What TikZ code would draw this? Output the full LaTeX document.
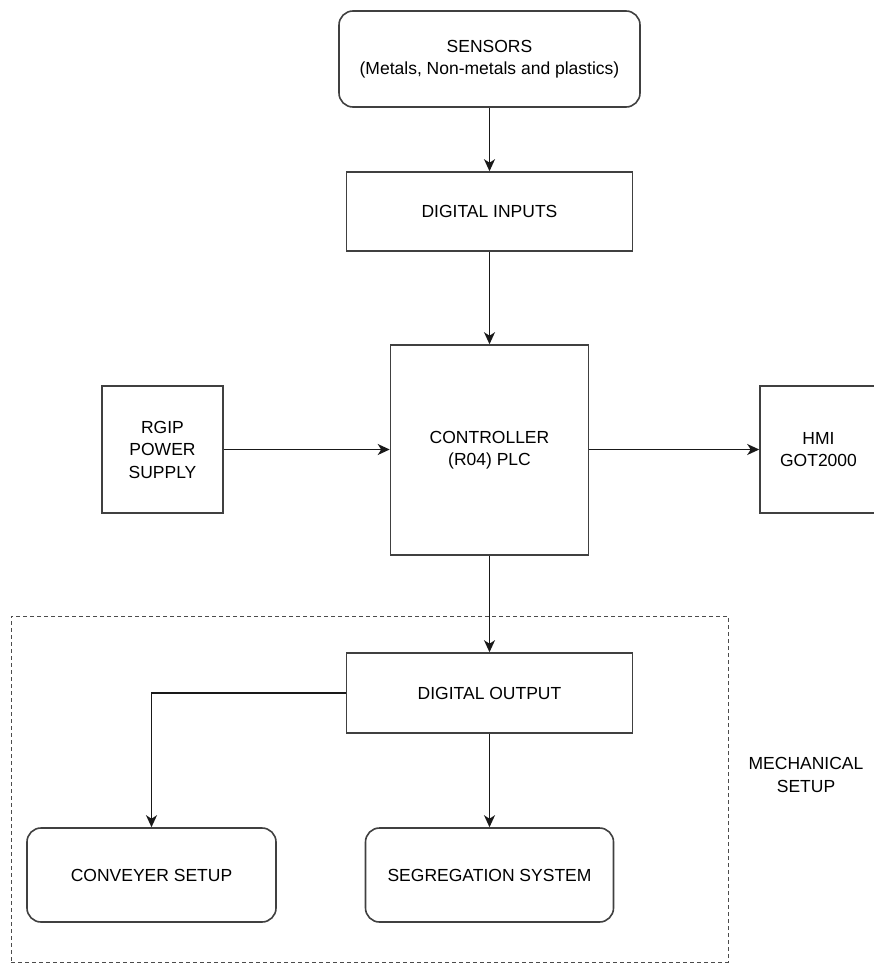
\documentclass[tikz,border=0pt]{standalone}
\usepackage{fontspec}
\setmainfont{Liberation Sans}
\usetikzlibrary{arrows.meta}
\begin{document}
\begin{tikzpicture}[x=1pt,y=-1pt,
  box/.style={draw=black!75, line width=1.6pt, align=center, inner sep=0pt,
    font=\fontsize{17.5}{22.5}\selectfont, text=black},
  rbox/.style={box, rounded corners=14pt},
  arr/.style={draw=black!90, line width=1.4pt, -{Stealth[length=12pt,width=11pt,inset=3.5pt]}},
  group/.style={draw=black!70, line width=1pt, dash pattern=on 4pt off 3pt, inner sep=0pt},
  lbl/.style={align=center, inner sep=0pt, font=\fontsize{17.5}{22.5}\selectfont}
]
\useasboundingbox (0,0) rectangle (873,963);
\node[group, minimum width=717pt, minimum height=346pt] (mech) at (369.5,789) {};
\node[rbox, minimum width=301pt, minimum height=96pt] (sensors) at (489.5,59) {SENSORS\\(Metals, Non-metals and plastics)};
\node[box, minimum width=286pt, minimum height=79pt] (dinputs) at (489.5,211.5) {DIGITAL INPUTS};
\node[box, minimum width=198pt, minimum height=210pt] (ctrl) at (489.5,450) {CONTROLLER\\(R04) PLC};
\node[box, minimum width=121pt, minimum height=127pt] (power) at (162.5,449.5) {RGIP\\POWER\\SUPPLY};
\node[box, minimum width=117pt, minimum height=127pt] (hmi) at (818.5,449.5) {HMI\\GOT2000};
\node[box, minimum width=286pt, minimum height=80pt] (doutput) at (489.5,693) {DIGITAL OUTPUT};
\node[rbox, minimum width=249pt, minimum height=94pt] (conv) at (151.5,875) {CONVEYER SETUP};
\node[rbox, minimum width=248pt, minimum height=94pt] (seg) at (489.5,875) {SEGREGATION SYSTEM};
\node[lbl] (mechlbl) at (806,775) {MECHANICAL\\SETUP};
\draw[arr] (sensors) -- (dinputs);
\draw[arr] (dinputs) -- (ctrl);
\draw[arr] (power.east) -- (ctrl.west|-power.east);
\draw[arr] (ctrl.east|-hmi.west) -- (hmi.west);
\draw[arr] (ctrl) -- (doutput);
\draw[arr] (doutput) -- (seg);
\draw[arr] (doutput.west) -| (conv.north);
\end{tikzpicture}
\end{document}
